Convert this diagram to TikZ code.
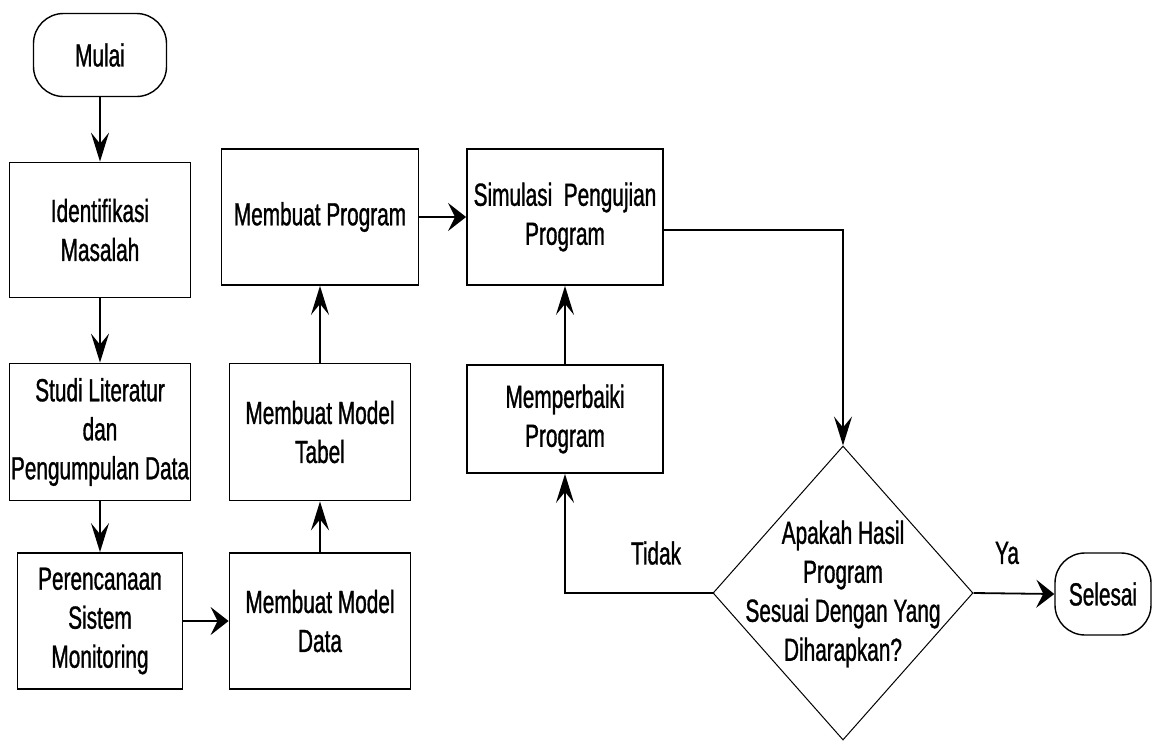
\documentclass[tikz,border=0pt]{standalone}
\usepackage{fontspec}
\setmainfont{Liberation Sans}[FakeStretch=0.65,FakeBold=1]
\usetikzlibrary{shapes.geometric,arrows.meta}
\tikzset{
  kotak/.style={draw,line width=1.8pt,inner sep=0pt,align=center},
  terminal/.style={kotak,line width=1.4pt,rounded corners=30pt},
  va/.style={-{Stealth[length=29pt,width=18pt,inset=11pt]}},
  ha/.style={-{Stealth[length=18pt,width=28pt,inset=7pt]}},
}
\begin{document}
\begin{tikzpicture}[x=1pt,y=-1pt,line width=1.8pt,font=\fontsize{32}{39}\selectfont]
\useasboundingbox (0,0) rectangle (1152,740);

\node (mulai)[terminal,minimum width=133pt,minimum height=83pt] at (100,55){Mulai};
\node (identifikasi)[kotak,minimum width=181pt,minimum height=135pt] at (100,230){Identifikasi\\Masalah};
\node (studi)[kotak,minimum width=181pt,minimum height=137pt] at (100,432){Studi Literatur\\dan\\Pengumpulan Data};
\node (rencana)[kotak,minimum width=165pt,minimum height=136pt] at (100,621){Perencanaan\\Sistem\\Monitoring};
\node (modeldata)[kotak,minimum width=181pt,minimum height=136pt] at (320,621){Membuat Model\\Data};
\node (tabel)[kotak,minimum width=181pt,minimum height=137pt] at (320,432){Membuat Model\\Tabel};
\node (program)[kotak,minimum width=197pt,minimum height=136pt] at (320,217){Membuat Program};
\node (simulasi)[kotak,minimum width=196pt,minimum height=136pt] at (565,217){Simulasi~ Pengujian\\Program};
\node (perbaiki)[kotak,minimum width=196pt,minimum height=108pt] at (565,419){Memperbaiki\\Program};
\node (cek)[diamond,draw,line width=1pt,minimum width=260pt,minimum height=294pt,inner sep=0pt] at (843,593){};
\node (tanya)[align=center] at (843,594){Apakah Hasil\\Program\\Sesuai Dengan Yang\\Diharapkan?};
\node (selesai)[terminal,minimum width=96pt,minimum height=82pt] at (1103,594){Selesai};

\node (tidak) at (656,553){Tidak};
\node (ya) at (1007,553){Ya};

\draw[va] (mulai)--(identifikasi);
\draw[va] (identifikasi)--(studi);
\draw[va] (studi)--(rencana);
\draw[ha] (rencana)--(modeldata);
\draw[va] (modeldata)--(tabel);
\draw[va] (tabel)--(program);
\draw[ha] (program)--(simulasi);
\draw[va] (perbaiki)--(simulasi);
\draw[va] ([yshift=-13pt]simulasi.east)-|(cek.north);
\draw[va] (cek.west)-|(perbaiki.south);
\draw[ha] (cek.east)--(selesai.west);
\end{tikzpicture}
\end{document}
